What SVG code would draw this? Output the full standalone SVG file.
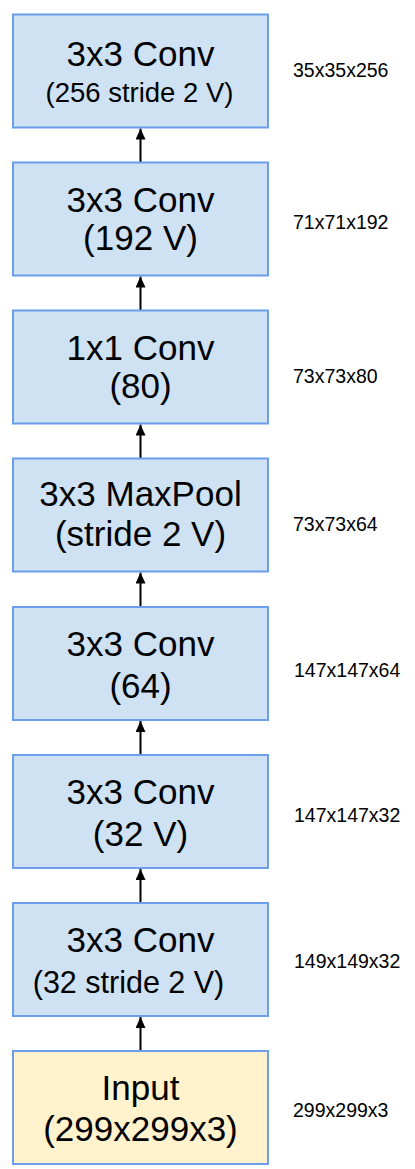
<svg xmlns="http://www.w3.org/2000/svg" width="415" height="1169" viewBox="0 0 415 1169">
<style>
.box{fill:#cfe2f3;stroke:#6d9eeb;stroke-width:2}
.inp{fill:#fff2cc;stroke:#6d9eeb;stroke-width:2}
.t{font-family:"Liberation Sans",Arial,sans-serif;font-size:35px;fill:#000;text-anchor:middle}
.s{font-family:"Liberation Sans",Arial,sans-serif;font-size:27.5px;fill:#000;text-anchor:middle}
.l{font-family:"Liberation Sans",Arial,sans-serif;font-size:19.5px;fill:#000}
.c{stroke:#000;stroke-width:2;fill:none}
</style>
<defs>
<marker id="ah" markerWidth="10" markerHeight="11" refX="11" refY="5" orient="auto" markerUnits="userSpaceOnUse">
<path d="M0,0 L11,5 L0,10 z" fill="#000"/>
</marker>
</defs>
<g id="connectors">
<line class="c" x1="140.5" y1="163" x2="140.5" y2="128.5" marker-end="url(#ah)"/>
<line class="c" x1="140.5" y1="311" x2="140.5" y2="276.5" marker-end="url(#ah)"/>
<line class="c" x1="140.5" y1="459" x2="140.5" y2="424.5" marker-end="url(#ah)"/>
<line class="c" x1="140.5" y1="607" x2="140.5" y2="572.5" marker-end="url(#ah)"/>
<line class="c" x1="140.5" y1="755" x2="140.5" y2="721" marker-end="url(#ah)"/>
<line class="c" x1="140.5" y1="903" x2="140.5" y2="869" marker-end="url(#ah)"/>
<line class="c" x1="140.5" y1="1051" x2="140.5" y2="1017" marker-end="url(#ah)"/>
</g>
<g id="n1">
<rect class="box" x="13" y="14.5" width="255" height="113"/>
<text class="t" x="140.5" y="66">3x3 Conv</text>
<text class="s" x="139.5" y="102">(256 stride 2 V)</text>
<text class="l" x="293" y="77">35x35x256</text>
</g>
<g id="n2">
<rect class="box" x="13" y="162.5" width="255" height="113"/>
<text class="t" x="140.5" y="212">3x3 Conv</text>
<text class="t" x="140.5" y="250">(192 V)</text>
<text class="l" x="293" y="229">71x71x192</text>
</g>
<g id="n3">
<rect class="box" x="13" y="310.5" width="255" height="113"/>
<text class="t" x="140.5" y="360">1x1 Conv</text>
<text class="t" x="140.5" y="398">(80)</text>
<text class="l" x="293" y="383">73x73x80</text>
</g>
<g id="n4">
<rect class="box" x="13" y="458.5" width="255" height="113"/>
<text class="t" x="140.5" y="506">3x3 MaxPool</text>
<text class="t" x="140.5" y="546">(stride 2 V)</text>
<text class="l" x="293" y="530.5">73x73x64</text>
</g>
<g id="n5">
<rect class="box" x="13" y="607" width="255" height="113"/>
<text class="t" x="140.5" y="655.5">3x3 Conv</text>
<text class="t" x="140.5" y="698">(64)</text>
<text class="l" x="294" y="676.5">147x147x64</text>
</g>
<g id="n6">
<rect class="box" x="13" y="755" width="255" height="113"/>
<text class="t" x="140.5" y="803.5">3x3 Conv</text>
<text class="t" x="140.5" y="846">(32 V)</text>
<text class="l" x="294" y="821.5">147x147x32</text>
</g>
<g id="n7">
<rect class="box" x="13" y="903" width="255" height="113"/>
<text class="t" x="140.5" y="951.5">3x3 Conv</text>
<text class="s" x="128.5" y="993" style="font-size:30.5px">(32 stride 2 V)</text>
<text class="l" x="294" y="968">149x149x32</text>
</g>
<g id="n8">
<rect class="inp" x="13" y="1051" width="255" height="113"/>
<text class="t" x="140.5" y="1099.5">Input</text>
<text class="t" x="140.5" y="1140.5">(299x299x3)</text>
<text class="l" x="293" y="1117">299x299x3</text>
</g>
</svg>
